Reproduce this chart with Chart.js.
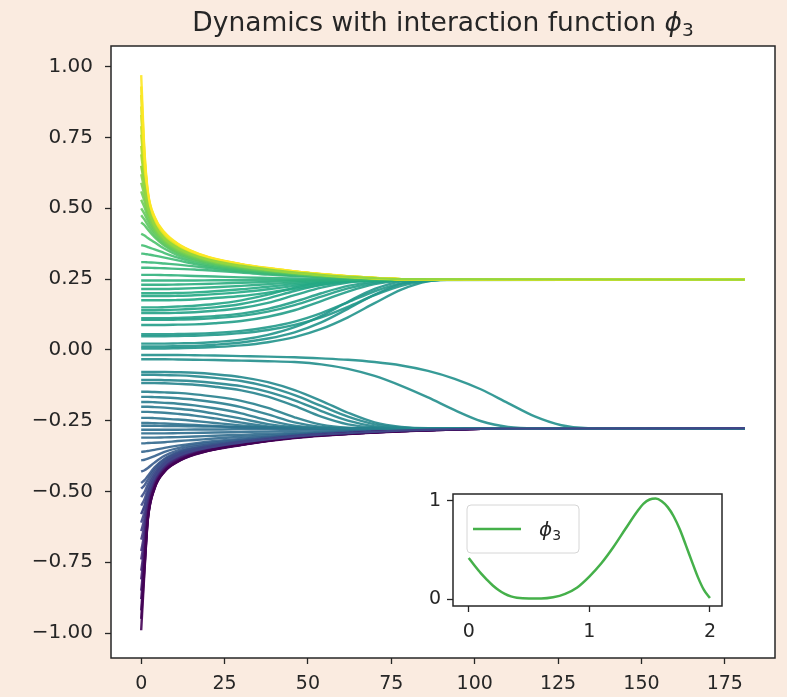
<!DOCTYPE html>
<html>
<head>
<meta charset="utf-8">
<script src="https://cdn.jsdelivr.net/npm/chart.js"></script>
<style>
  html, body { margin: 0; padding: 0; background: #faebe0; }
  #wrap { position: relative; width: 787px; height: 697px; }
  #main { position: absolute; left: 0; top: 0; }
  #inset { position: absolute; left: 400px; top: 470px; }
</style>
</head>
<body>
<div id="wrap">
  <canvas id="main" width="787" height="697"></canvas>
  <canvas id="inset" width="340" height="180"></canvas>
</div>
<script>
// time samples shared by all trajectories; the last value of every series sits at tEnd
const tGrid = [0, 1, 2, 4, 7, 11, 16, 22, 30, 38, 46, 54, 62, 70, 78, 86, 94, 102, 110, 118, 126, 134, 142];
const tEnd = 181;

const xTicks = [0, 25, 50, 75, 100, 125, 150, 175];
const yTicks = [-1, -0.75, -0.5, -0.25, 0, 0.25, 0.5, 0.75, 1];

// upper cluster, fast decay from the top
const upperFan = [
    [0.97, 0.70, 0.56, 0.47, 0.415, 0.375, 0.345, 0.322, 0.303, 0.289, 0.277, 0.268, 0.26, 0.254, 0.25, 0.248],
    [0.93, 0.69, 0.555, 0.468, 0.412, 0.374, 0.344, 0.321, 0.302, 0.288, 0.277, 0.267, 0.26, 0.254, 0.25, 0.248],
    [0.90, 0.68, 0.55, 0.465, 0.41, 0.372, 0.343, 0.32, 0.302, 0.288, 0.277, 0.267, 0.26, 0.254, 0.25, 0.248],
    [0.86, 0.67, 0.545, 0.462, 0.408, 0.37, 0.342, 0.32, 0.301, 0.287, 0.276, 0.267, 0.259, 0.254, 0.25, 0.248],
    [0.83, 0.66, 0.54, 0.46, 0.406, 0.369, 0.341, 0.319, 0.301, 0.287, 0.276, 0.267, 0.259, 0.254, 0.25, 0.248],
    [0.79, 0.645, 0.535, 0.457, 0.404, 0.367, 0.34, 0.318, 0.3, 0.286, 0.275, 0.266, 0.259, 0.253, 0.25, 0.248],
    [0.76, 0.635, 0.53, 0.455, 0.402, 0.366, 0.339, 0.317, 0.3, 0.286, 0.275, 0.266, 0.259, 0.253, 0.25, 0.248],
    [0.72, 0.615, 0.522, 0.45, 0.399, 0.364, 0.337, 0.316, 0.299, 0.285, 0.274, 0.266, 0.258, 0.253, 0.25, 0.248],
    [0.69, 0.60, 0.515, 0.447, 0.397, 0.362, 0.336, 0.315, 0.298, 0.285, 0.274, 0.265, 0.258, 0.253, 0.25, 0.248],
    [0.65, 0.58, 0.507, 0.442, 0.394, 0.36, 0.334, 0.314, 0.297, 0.284, 0.273, 0.265, 0.258, 0.253, 0.25, 0.248],
    [0.62, 0.565, 0.50, 0.438, 0.391, 0.358, 0.333, 0.313, 0.296, 0.284, 0.273, 0.265, 0.258, 0.253, 0.25, 0.248],
    [0.59, 0.545, 0.49, 0.433, 0.388, 0.355, 0.331, 0.311, 0.295, 0.283, 0.272, 0.264, 0.257, 0.252, 0.249, 0.248],
    [0.56, 0.525, 0.48, 0.428, 0.385, 0.353, 0.329, 0.31, 0.294, 0.282, 0.272, 0.264, 0.257, 0.252, 0.249, 0.248],
    [0.53, 0.503, 0.467, 0.421, 0.381, 0.35, 0.327, 0.308, 0.293, 0.281, 0.271, 0.263, 0.257, 0.252, 0.249, 0.248],
    [0.50, 0.48, 0.455, 0.415, 0.377, 0.347, 0.325, 0.307, 0.292, 0.28, 0.271, 0.263, 0.257, 0.252, 0.249, 0.248],
    [0.475, 0.46, 0.44, 0.406, 0.372, 0.344, 0.322, 0.305, 0.29, 0.279, 0.27, 0.262, 0.256, 0.252, 0.249, 0.248],
    [0.45, 0.44, 0.425, 0.398, 0.368, 0.341, 0.32, 0.303, 0.289, 0.278, 0.269, 0.262, 0.256, 0.252, 0.249, 0.248],
    [0.41, 0.404, 0.395, 0.38, 0.357, 0.334, 0.315, 0.299, 0.286, 0.276, 0.268, 0.261, 0.256, 0.251, 0.249, 0.248],
    [0.37, 0.367, 0.363, 0.355, 0.342, 0.326, 0.309, 0.295, 0.283, 0.274, 0.266, 0.26, 0.255, 0.251, 0.249, 0.248],
    [0.34, 0.339, 0.337, 0.333, 0.326, 0.316, 0.303, 0.291, 0.28, 0.272, 0.265, 0.259, 0.254, 0.251, 0.249, 0.248],
    [0.31, 0.31, 0.309, 0.308, 0.305, 0.301, 0.295, 0.286, 0.277, 0.269, 0.263, 0.258, 0.254, 0.251, 0.249, 0.248],
    [0.29, 0.29, 0.29, 0.289, 0.288, 0.286, 0.284, 0.279, 0.273, 0.266, 0.261, 0.257, 0.253, 0.25, 0.249, 0.248]
];

// upper cluster, started close to the consensus value
const upperNear = [
    [0.265, 0.265, 0.265, 0.265, 0.264, 0.263, 0.261, 0.259, 0.256, 0.254, 0.252, 0.25, 0.249, 0.248, 0.248, 0.248],
    [0.245, 0.245, 0.245, 0.245, 0.245, 0.245, 0.245, 0.246, 0.246, 0.247, 0.247, 0.248, 0.248, 0.248, 0.248, 0.248],
    [0.23, 0.23, 0.23, 0.23, 0.23, 0.231, 0.232, 0.234, 0.237, 0.24, 0.243, 0.245, 0.247, 0.248, 0.248, 0.248],
    [0.215, 0.215, 0.215, 0.215, 0.215, 0.216, 0.218, 0.221, 0.226, 0.232, 0.238, 0.243, 0.246, 0.247, 0.248, 0.248],
    [0.20, 0.20, 0.20, 0.20, 0.20, 0.201, 0.203, 0.207, 0.214, 0.223, 0.232, 0.24, 0.245, 0.247, 0.248, 0.248],
    [0.19, 0.19, 0.19, 0.19, 0.19, 0.191, 0.193, 0.197, 0.204, 0.214, 0.226, 0.236, 0.243, 0.246, 0.248, 0.248],
    [0.175, 0.175, 0.175, 0.175, 0.175, 0.176, 0.178, 0.183, 0.19, 0.202, 0.216, 0.23, 0.24, 0.245, 0.247, 0.248]
];

// slow climbers into the upper cluster
const upperRise = [
    [0.15, 0.15, 0.15, 0.15, 0.151, 0.153, 0.156, 0.162, 0.175, 0.195, 0.22, 0.238, 0.246, 0.248, 0.248, 0.248, 0.248, 0.248, 0.248],
    [0.14, 0.14, 0.14, 0.14, 0.141, 0.142, 0.145, 0.15, 0.162, 0.182, 0.208, 0.23, 0.243, 0.247, 0.248, 0.248, 0.248, 0.248, 0.248],
    [0.13, 0.13, 0.13, 0.13, 0.13, 0.131, 0.133, 0.138, 0.148, 0.166, 0.193, 0.22, 0.238, 0.246, 0.248, 0.248, 0.248, 0.248, 0.248],
    [0.112, 0.112, 0.112, 0.112, 0.112, 0.113, 0.115, 0.119, 0.128, 0.145, 0.17, 0.2, 0.226, 0.241, 0.247, 0.248, 0.248, 0.248, 0.248],
    [0.106, 0.106, 0.106, 0.106, 0.106, 0.107, 0.108, 0.112, 0.12, 0.135, 0.158, 0.188, 0.217, 0.237, 0.246, 0.248, 0.248, 0.248, 0.248],
    [0.088, 0.088, 0.088, 0.088, 0.088, 0.089, 0.09, 0.094, 0.102, 0.117, 0.14, 0.172, 0.206, 0.232, 0.245, 0.248, 0.248, 0.248, 0.248],
    [0.055, 0.055, 0.055, 0.055, 0.055, 0.056, 0.057, 0.06, 0.067, 0.08, 0.1, 0.13, 0.168, 0.207, 0.235, 0.246, 0.248, 0.248, 0.248],
    [0.048, 0.048, 0.048, 0.048, 0.048, 0.049, 0.05, 0.053, 0.059, 0.07, 0.088, 0.115, 0.152, 0.193, 0.226, 0.243, 0.248, 0.248, 0.248],
    [0.022, 0.022, 0.022, 0.022, 0.022, 0.023, 0.024, 0.028, 0.036, 0.053, 0.08, 0.12, 0.17, 0.215, 0.242, 0.248, 0.248, 0.248, 0.248],
    [0.012, 0.012, 0.012, 0.012, 0.012, 0.013, 0.014, 0.018, 0.026, 0.04, 0.062, 0.097, 0.145, 0.195, 0.233, 0.246, 0.248, 0.248, 0.248],
    [0.005, 0.005, 0.005, 0.005, 0.005, 0.006, 0.007, 0.01, 0.016, 0.027, 0.045, 0.074, 0.115, 0.165, 0.213, 0.242, 0.248, 0.248, 0.248]
];

// the two late fallers near zero
const middleFall = [
    [-0.018, -0.018, -0.018, -0.018, -0.018, -0.018, -0.019, -0.02, -0.022, -0.024, -0.026, -0.03, -0.035, -0.043, -0.055, -0.074, -0.102, -0.14, -0.188, -0.235, -0.266, -0.277, -0.277, -0.277],
    [-0.033, -0.033, -0.033, -0.033, -0.033, -0.034, -0.035, -0.036, -0.038, -0.04, -0.043, -0.051, -0.067, -0.092, -0.127, -0.168, -0.213, -0.252, -0.272, -0.277, -0.277]
];

// fallers into the lower cluster
const lowerFall = [
    [-0.078, -0.078, -0.078, -0.078, -0.078, -0.079, -0.081, -0.086, -0.096, -0.114, -0.142, -0.18, -0.222, -0.256, -0.272, -0.277, -0.277],
    [-0.088, -0.088, -0.088, -0.088, -0.089, -0.09, -0.093, -0.099, -0.11, -0.13, -0.16, -0.198, -0.236, -0.263, -0.275, -0.277, -0.277],
    [-0.106, -0.106, -0.106, -0.106, -0.107, -0.108, -0.111, -0.117, -0.128, -0.148, -0.178, -0.216, -0.25, -0.27, -0.276, -0.277, -0.277],
    [-0.117, -0.117, -0.117, -0.117, -0.118, -0.12, -0.123, -0.13, -0.143, -0.165, -0.198, -0.236, -0.263, -0.274, -0.277, -0.277, -0.277],
    [-0.148, -0.148, -0.148, -0.149, -0.15, -0.152, -0.157, -0.165, -0.18, -0.205, -0.238, -0.264, -0.275, -0.277, -0.277, -0.277, -0.277],
    [-0.166, -0.166, -0.166, -0.167, -0.168, -0.171, -0.176, -0.185, -0.202, -0.228, -0.256, -0.272, -0.277, -0.277, -0.277, -0.277, -0.277],
    [-0.184, -0.184, -0.184, -0.185, -0.187, -0.19, -0.196, -0.206, -0.224, -0.249, -0.268, -0.276, -0.277, -0.277, -0.277, -0.277, -0.277],
    [-0.201, -0.201, -0.201, -0.202, -0.204, -0.208, -0.214, -0.225, -0.243, -0.262, -0.273, -0.277, -0.277, -0.277, -0.277, -0.277, -0.277],
    [-0.219, -0.219, -0.219, -0.22, -0.222, -0.226, -0.232, -0.242, -0.257, -0.27, -0.276, -0.277, -0.277, -0.277, -0.277, -0.277, -0.277],
    [-0.24, -0.24, -0.24, -0.241, -0.243, -0.246, -0.251, -0.258, -0.267, -0.274, -0.277, -0.277, -0.277, -0.277, -0.277, -0.277, -0.277],
    [-0.258, -0.258, -0.258, -0.259, -0.26, -0.262, -0.265, -0.269, -0.273, -0.276, -0.277, -0.277, -0.277, -0.277, -0.277, -0.277, -0.277]
];

// lower cluster, started close to the consensus value
const lowerNear = [
    [-0.268, -0.268, -0.268, -0.268, -0.269, -0.269, -0.27, -0.271, -0.273, -0.274, -0.275, -0.276, -0.277, -0.277, -0.277, -0.277],
    [-0.282, -0.282, -0.282, -0.282, -0.282, -0.282, -0.281, -0.281, -0.28, -0.279, -0.279, -0.278, -0.278, -0.277, -0.277, -0.277]
];

// lower cluster, fast rise from the bottom
const lowerFan = [
    [-0.99, -0.78, -0.60, -0.49, -0.43, -0.395, -0.37, -0.352, -0.336, -0.322, -0.311, -0.303, -0.297, -0.292, -0.288, -0.284, -0.281, -0.279, -0.277],
    [-0.95, -0.77, -0.598, -0.489, -0.429, -0.394, -0.369, -0.351, -0.335, -0.321, -0.31, -0.302, -0.296, -0.291, -0.287, -0.284, -0.281, -0.279, -0.277],
    [-0.92, -0.76, -0.595, -0.487, -0.428, -0.393, -0.368, -0.351, -0.335, -0.321, -0.31, -0.302, -0.296, -0.291, -0.287, -0.284, -0.281, -0.279, -0.277],
    [-0.88, -0.745, -0.59, -0.485, -0.426, -0.391, -0.367, -0.35, -0.334, -0.32, -0.31, -0.302, -0.296, -0.291, -0.287, -0.283, -0.281, -0.279, -0.277],
    [-0.85, -0.73, -0.585, -0.483, -0.425, -0.39, -0.366, -0.349, -0.334, -0.32, -0.31, -0.302, -0.296, -0.291, -0.287, -0.283, -0.281, -0.279, -0.277],
    [-0.81, -0.71, -0.578, -0.48, -0.423, -0.388, -0.365, -0.348, -0.333, -0.32, -0.309, -0.301, -0.295, -0.29, -0.286, -0.283, -0.28, -0.279, -0.277],
    [-0.78, -0.69, -0.57, -0.477, -0.421, -0.387, -0.364, -0.347, -0.332, -0.319, -0.309, -0.301, -0.295, -0.29, -0.286, -0.283, -0.28, -0.279, -0.277],
    [-0.74, -0.665, -0.56, -0.474, -0.419, -0.385, -0.362, -0.346, -0.331, -0.318, -0.308, -0.3, -0.295, -0.29, -0.286, -0.283, -0.28, -0.278, -0.277],
    [-0.71, -0.645, -0.55, -0.47, -0.416, -0.384, -0.361, -0.345, -0.331, -0.318, -0.308, -0.3, -0.295, -0.29, -0.286, -0.283, -0.28, -0.278, -0.277],
    [-0.67, -0.62, -0.54, -0.465, -0.413, -0.381, -0.359, -0.344, -0.33, -0.317, -0.307, -0.3, -0.294, -0.29, -0.286, -0.283, -0.28, -0.278, -0.277],
    [-0.64, -0.595, -0.53, -0.46, -0.41, -0.379, -0.358, -0.343, -0.329, -0.317, -0.307, -0.3, -0.294, -0.29, -0.286, -0.283, -0.28, -0.278, -0.277],
    [-0.61, -0.572, -0.518, -0.454, -0.407, -0.376, -0.356, -0.342, -0.328, -0.316, -0.306, -0.299, -0.294, -0.289, -0.285, -0.282, -0.28, -0.278, -0.277],
    [-0.58, -0.55, -0.505, -0.448, -0.403, -0.374, -0.355, -0.341, -0.327, -0.316, -0.306, -0.299, -0.294, -0.289, -0.285, -0.282, -0.28, -0.278, -0.277],
    [-0.55, -0.527, -0.49, -0.44, -0.398, -0.371, -0.353, -0.339, -0.326, -0.315, -0.305, -0.298, -0.293, -0.289, -0.285, -0.282, -0.28, -0.278, -0.277],
    [-0.52, -0.502, -0.475, -0.432, -0.394, -0.368, -0.351, -0.338, -0.325, -0.314, -0.305, -0.298, -0.293, -0.289, -0.285, -0.282, -0.28, -0.278, -0.277],
    [-0.49, -0.478, -0.458, -0.422, -0.388, -0.364, -0.348, -0.336, -0.324, -0.313, -0.304, -0.298, -0.293, -0.288, -0.285, -0.282, -0.28, -0.278, -0.277],
    [-0.47, -0.46, -0.445, -0.415, -0.384, -0.362, -0.347, -0.335, -0.323, -0.313, -0.304, -0.298, -0.293, -0.288, -0.285, -0.282, -0.28, -0.278, -0.277],
    [-0.43, -0.425, -0.417, -0.398, -0.374, -0.355, -0.342, -0.331, -0.321, -0.311, -0.303, -0.297, -0.292, -0.288, -0.284, -0.282, -0.279, -0.278, -0.277],
    [-0.39, -0.388, -0.384, -0.375, -0.36, -0.347, -0.336, -0.327, -0.318, -0.309, -0.302, -0.296, -0.291, -0.287, -0.284, -0.281, -0.279, -0.278, -0.277],
    [-0.36, -0.359, -0.357, -0.353, -0.346, -0.338, -0.33, -0.322, -0.314, -0.307, -0.3, -0.295, -0.29, -0.287, -0.284, -0.281, -0.279, -0.278, -0.277],
    [-0.33, -0.33, -0.329, -0.328, -0.326, -0.322, -0.318, -0.313, -0.307, -0.302, -0.297, -0.293, -0.289, -0.286, -0.283, -0.281, -0.279, -0.278, -0.277],
    [-0.31, -0.31, -0.31, -0.31, -0.309, -0.308, -0.306, -0.303, -0.3, -0.296, -0.293, -0.29, -0.287, -0.285, -0.283, -0.281, -0.279, -0.278, -0.277],
    [-0.295, -0.295, -0.295, -0.295, -0.295, -0.294, -0.293, -0.292, -0.29, -0.288, -0.286, -0.284, -0.282, -0.281, -0.279, -0.278, -0.278, -0.277, -0.277]
];

// inset: the interaction function
const phiX = [0, 0.05, 0.1, 0.15, 0.2, 0.25, 0.3, 0.35, 0.4, 0.5, 0.6, 0.7, 0.8, 0.9, 1.0, 1.1, 1.2, 1.3, 1.4, 1.45, 1.5, 1.55, 1.6, 1.65, 1.7, 1.75, 1.8, 1.85, 1.9, 1.95, 2.0];
const phiY = [0.42, 0.34, 0.265, 0.2, 0.14, 0.092, 0.055, 0.03, 0.016, 0.008, 0.008, 0.02, 0.055, 0.12, 0.23, 0.365, 0.53, 0.715, 0.895, 0.97, 1.012, 1.022, 0.995, 0.935, 0.84, 0.71, 0.55, 0.385, 0.225, 0.095, 0.012];
const phiXTicks = [0, 1, 2];
const phiYTicks = [0, 1];

const FONT = 'DejaVu Sans';
const INK = '#262626';

// viridis, 11 stops
const viridis = ['#440154', '#482475', '#414487', '#355f8d', '#2a788e', '#21918c', '#22a884', '#44bf70', '#7ad151', '#bddf26', '#fde725'];

function viridisAt(f, alpha) {
    f = Math.min(1, Math.max(0, f));
    const pos = f * (viridis.length - 1);
    const i = Math.min(viridis.length - 2, Math.floor(pos));
    const k = pos - i;
    const a = viridis[i], b = viridis[i + 1];
    const ch = (h, o) => parseInt(h.substr(o, 2), 16);
    const mix = o => Math.round(ch(a, o) + (ch(b, o) - ch(a, o)) * k);
    return `rgba(${mix(1)}, ${mix(3)}, ${mix(5)}, ${alpha})`;
}

const allSeries = [].concat(upperFan, upperNear, upperRise, middleFall, lowerFall, lowerNear, lowerFan);
const starts = allSeries.map(s => s[0]);
const vMin = Math.min(...starts), vMax = Math.max(...starts);

// lines drawn last (on top) where the bundles overlap
const onTop = [upperFan[9], lowerFan[12]];

const datasets = allSeries.map(s => {
    const top = onTop.includes(s);
    return {
        data: s.map((v, i) => ({ x: i === s.length - 1 ? tEnd : tGrid[i], y: v })),
        borderColor: viridisAt((s[0] - vMin) / (vMax - vMin), top ? 1 : 0.9),
        order: top ? 0 : 1
    };
});

const fmt = v => v.toFixed(2).replace('-', '\u2212');

// white axes background + four-sided frame
const axesBox = {
    id: 'axesBox',
    beforeDraw(chart) {
        const { ctx, chartArea: a } = chart;
        ctx.save();
        ctx.fillStyle = '#ffffff';
        ctx.fillRect(a.left, a.top, a.right - a.left, a.bottom - a.top);
        ctx.restore();
    },
    afterDraw(chart) {
        const { ctx, chartArea: a } = chart;
        ctx.save();
        ctx.strokeStyle = INK;
        ctx.lineWidth = 1.5;
        ctx.strokeRect(a.left, a.top, a.right - a.left, a.bottom - a.top);
        ctx.restore();
    }
};

// title with math phi_3
const titlePlugin = {
    id: 'mathTitle',
    afterDraw(chart) {
        const { ctx, chartArea: a } = chart;
        const main = 'Dynamics with interaction function ';
        ctx.save();
        ctx.fillStyle = INK;
        ctx.textBaseline = 'alphabetic';
        ctx.font = `26.5px "${FONT}"`;
        const w1 = ctx.measureText(main).width;
        ctx.font = `italic 26.5px "${FONT}"`;
        const w2 = ctx.measureText('\u03d5').width;
        ctx.font = `18.5px "${FONT}"`;
        const w3 = ctx.measureText('3').width;
        let x = (a.left + a.right) / 2 - (w1 + w2 + w3) / 2;
        const y = 31;
        ctx.font = `26.5px "${FONT}"`;
        ctx.fillText(main, x, y);
        x += w1;
        ctx.font = `italic 26.5px "${FONT}"`;
        ctx.fillText('\u03d5', x, y);
        x += w2;
        ctx.font = `18.5px "${FONT}"`;
        ctx.fillText('3', x, y + 5);
        ctx.restore();
    }
};

function axisStyle(ticks, fitSize, isX, tickFmt, size, pad) {
    return {
        type: 'linear',
        afterBuildTicks: s => { s.ticks = ticks.map(v => ({ value: v })); },
        afterFit: s => { if (isX) s.height = fitSize; else s.width = fitSize; },
        grid: { drawOnChartArea: false, drawTicks: true, tickLength: 6, tickColor: INK, tickWidth: 1.3 },
        border: { display: false },
        ticks: {
            color: INK,
            font: { family: FONT, size },
            padding: pad,
            maxRotation: 0,
            autoSkip: false,
            callback: tickFmt
        }
    };
}

new Chart(document.getElementById('main'), {
    type: 'line',
    data: { datasets },
    options: {
        responsive: false,
        animation: false,
        events: [],
        layout: { padding: { top: 46, right: 12, left: 0, bottom: 0 } },
        elements: {
            point: { radius: 0 },
            line: { borderWidth: 2.4, cubicInterpolationMode: 'monotone', fill: false }
        },
        plugins: { legend: { display: false }, tooltip: { enabled: false } },
        scales: {
            x: Object.assign(axisStyle(xTicks, 39, true, v => String(v), 19, 9), { min: -9.05, max: 190.05 }),
            y: Object.assign(axisStyle(yTicks, 111, false, fmt, 20, 12), { min: -1.088, max: 1.073 })
        }
    },
    plugins: [axesBox, titlePlugin]
});

// legend inside the inset axes
const insetLegend = {
    id: 'insetLegend',
    afterDraw(chart) {
        const { ctx, chartArea: a } = chart;
        const bx = a.left + 14, by = a.top + 11, bw = 112, bh = 48;
        ctx.save();
        ctx.fillStyle = 'rgba(255,255,255,0.8)';
        ctx.strokeStyle = '#d6d6d6';
        ctx.lineWidth = 1;
        ctx.beginPath();
        ctx.roundRect(bx, by, bw, bh, 4);
        ctx.fill();
        ctx.stroke();
        ctx.strokeStyle = '#45b04a';
        ctx.lineWidth = 2.5;
        ctx.beginPath();
        ctx.moveTo(bx + 6, by + 24);
        ctx.lineTo(bx + 54, by + 24);
        ctx.stroke();
        ctx.fillStyle = INK;
        ctx.textBaseline = 'alphabetic';
        ctx.font = `italic 20px "${FONT}"`;
        ctx.fillText('\u03d5', bx + 72, by + 31);
        const w = ctx.measureText('\u03d5').width;
        ctx.font = `14px "${FONT}"`;
        ctx.fillText('3', bx + 72 + w, by + 35);
        ctx.restore();
    }
};

new Chart(document.getElementById('inset'), {
    type: 'line',
    data: {
        datasets: [{
            data: phiX.map((x, i) => ({ x, y: phiY[i] })),
            borderColor: '#45b04a',
            borderWidth: 2.5
        }]
    },
    options: {
        responsive: false,
        animation: false,
        events: [],
        layout: { padding: { top: 24, right: 18, left: 0, bottom: 0 } },
        elements: {
            point: { radius: 0 },
            line: { cubicInterpolationMode: 'monotone', fill: false }
        },
        plugins: { legend: { display: false }, tooltip: { enabled: false } },
        scales: {
            x: Object.assign(axisStyle(phiXTicks, 44, true, v => String(v), 19, 9), { min: -0.13, max: 2.1 }),
            y: Object.assign(axisStyle(phiYTicks, 53, false, v => String(v), 19, 6), { min: -0.068, max: 1.068 })
        }
    },
    plugins: [axesBox, insetLegend]
});
</script>
</body>
</html>
